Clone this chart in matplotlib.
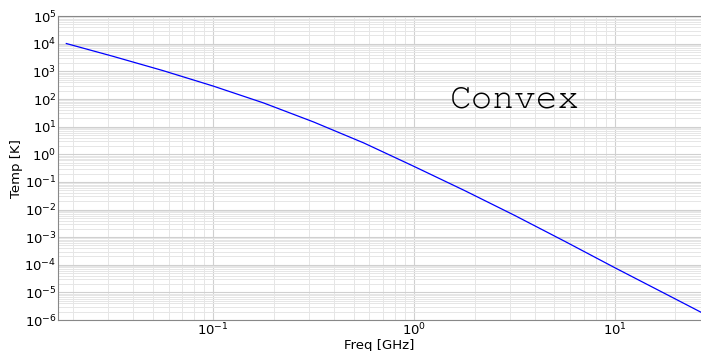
import numpy as np
import matplotlib
matplotlib.use('Agg')
import matplotlib.pyplot as plt
from matplotlib.ticker import LogLocator, NullFormatter

# Pontos (frequência em GHz, temperatura em K)
freq = [0.0186, 0.0316, 0.0562, 0.1, 0.178, 0.316, 0.562, 1.0, 1.78, 3.16, 5.62, 10.0, 17.8, 26.8]
temp = [1.02e4, 3548, 1072, 295, 72.4, 14.8, 2.57, 0.363, 0.049, 6.17e-3, 7.08e-4, 7.76e-5, 8.91e-6, 1.91e-6]
xticks = [0.1, 1, 10]

fig = plt.figure(figsize=(7.01, 3.51), dpi=100)
ax = fig.add_axes([0.0827, 0.0883, 0.9173, 0.8657])

ax.plot(freq, temp, color='#0000ff', lw=0.9)
ax.set_xscale('log')
ax.set_yscale('log')
ax.set_xlim(0.0169, 26.8)
ax.set_ylim(1e-6, 1e5)

ax.set_xticks(xticks)
ax.yaxis.set_major_locator(LogLocator(base=10, numticks=20))
ax.yaxis.set_minor_locator(LogLocator(base=10, subs=np.arange(2, 10), numticks=20))
ax.xaxis.set_minor_formatter(NullFormatter())
ax.yaxis.set_minor_formatter(NullFormatter())

ax.grid(True, which='major', color='#d0d0d0', lw=0.8)
ax.grid(True, which='minor', color='#e6e6e6', lw=0.7)
ax.set_axisbelow(True)

for s in ['left', 'bottom', 'top']:
    ax.spines[s].set_color('#888888')
ax.spines['right'].set_visible(False)
ax.tick_params(which='both', length=0, labelsize=9.5, pad=1)

ax.set_xlabel('Freq [GHz]', fontsize=9.5, labelpad=1)
ax.set_ylabel('Temp [K]', fontsize=9.5, labelpad=1)

ax.text(0.711, 0.724, 'Convex', transform=ax.transAxes, ha='center', va='center',
        fontsize=26, family=['Courier New', 'Courier', 'Nimbus Mono PS', 'FreeMono', 'Liberation Mono'])

fig.savefig('out.png', dpi=100)
